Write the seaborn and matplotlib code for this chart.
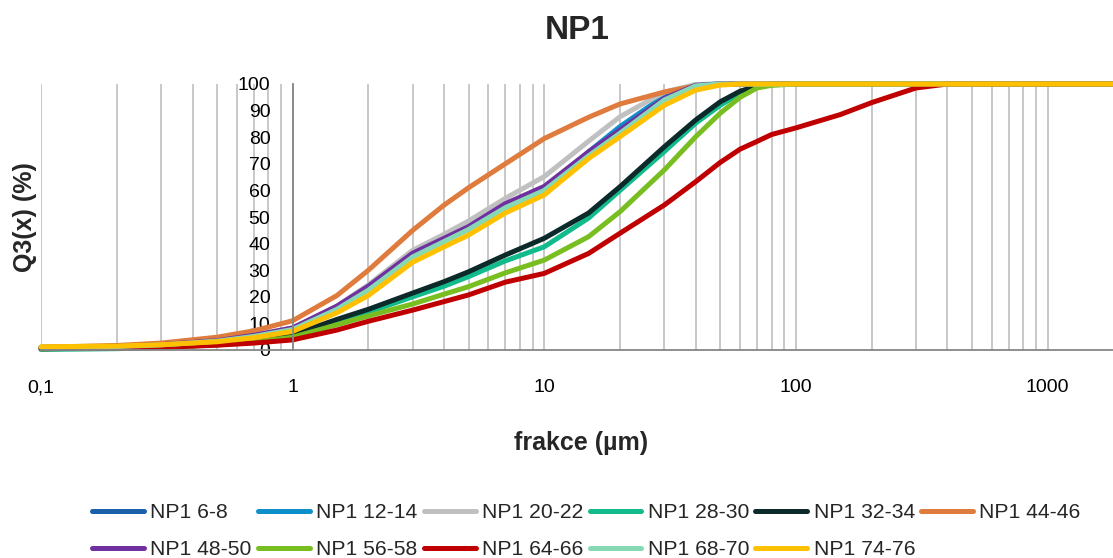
import pandas as pd
import matplotlib
matplotlib.use("Agg")
import matplotlib.pyplot as plt
import seaborn as sns
from matplotlib.lines import Line2D
from matplotlib.ticker import LogLocator, NullFormatter

# particle size (µm) and cumulative distribution Q3 (%)
size_um = [0.1, 0.2, 0.3, 0.5, 0.7, 1, 1.5, 2, 3, 4, 5, 7, 10, 15, 20, 30, 40,
           50, 60, 70, 80, 100, 150, 200, 300, 400, 500, 1000, 2000]

np1_6_8 = [0.9, 1.3, 1.9, 3.4, 5.3, 8.0, 16, 23.5, 36, 41.6, 46, 54.5, 61, 74, 82.5, 94.5, 99.4,
           100] + [100] * 11
np1_12_14 = [0.9, 1.3, 1.9, 3.3, 5.2, 7.9, 15.5, 23, 35.5, 41, 45.5, 53.5, 59.8, 74.5, 84, 95.5, 99.7,
             100] + [100] * 11
np1_20_22 = [1.0, 1.4, 2.0, 3.5, 5.5, 8.3, 16.5, 24.5, 37.5, 43.5, 48.5, 57, 65.2, 78.5, 87.7, 97, 99.8,
             100] + [100] * 11
np1_28_30 = [0.2, 0.5, 1.0, 2.0, 3.3, 5.3, 10.5, 14.2, 20, 24, 27.6, 33.5, 38.8, 49.6, 60, 74.6, 85.3,
             92, 96.5, 98.8, 99.7] + [100] * 8
np1_32_34 = [0.8, 1.0, 1.4, 2.4, 3.7, 5.7, 11.5, 15.3, 21.4, 25.7, 29.4, 35.7, 42, 51.5, 61.4, 76.4, 86.5,
             93.3, 97.3, 99.2, 100] + [100] * 8
np1_44_46 = [1.0, 1.7, 2.6, 4.8, 7.2, 11, 20.5, 30, 45, 54.5, 61, 70, 79.5, 87.5, 92.5, 97, 99.3,
             100] + [100] * 11
np1_48_50 = [1.0, 1.4, 2.0, 3.5, 5.5, 8.3, 16.5, 24, 36.4, 42, 46.4, 55, 61.5, 74.5, 82.7, 94.6, 99.5,
             100] + [100] * 11
np1_56_58 = [0.5, 0.8, 1.1, 1.9, 3.0, 4.8, 9.5, 12.8, 17.3, 21, 23.8, 29, 33.8, 42.6, 52, 67.7, 80.2,
             89, 95, 98.5, 99.5, 100] + [100] * 7
np1_64_66 = [0.5, 0.7, 1.0, 1.8, 2.6, 3.8, 7.5, 10.8, 15, 18.2, 20.7, 25.5, 28.8, 36.3, 43.9, 54.5, 63.3,
             70.5, 75.5, 78.4, 81, 83.5, 88.5, 93, 98.5, 100, 100, 100, 100]
np1_68_70 = [1.0, 1.3, 1.9, 3.3, 5.1, 7.7, 15.3, 22.5, 35, 40.8, 45.3, 53.5, 60, 73, 81.5, 94, 99.3,
             100] + [100] * 11
np1_74_76 = [1.2, 1.5, 2.0, 3.1, 4.6, 7.0, 14, 20.5, 33, 38.8, 43.2, 51.5, 58.3, 72, 80.2, 92, 97.7,
             99.6, 100] + [100] * 10

series_names = ["NP1 6-8", "NP1 12-14", "NP1 20-22", "NP1 28-30", "NP1 32-34", "NP1 44-46",
                "NP1 48-50", "NP1 56-58", "NP1 64-66", "NP1 68-70", "NP1 74-76"]
series_values = [np1_6_8, np1_12_14, np1_20_22, np1_28_30, np1_32_34, np1_44_46,
                 np1_48_50, np1_56_58, np1_64_66, np1_68_70, np1_74_76]
colors = ["#1a5fa9", "#0f8fc9", "#c0c0c0", "#12bb8b", "#0c2a2a", "#df7b3c",
          "#7030a0", "#78be20", "#c00000", "#86d9b5", "#ffc000"]

x_ticks = [0.1, 1, 10, 100, 1000]
x_tick_labels = ["0,1", "1", "10", "100", "1000"]
y_ticks = list(range(0, 101, 10))

df = pd.concat([pd.DataFrame({"frakce": size_um, "Q3": v, "vzorek": n})
                for n, v in zip(series_names, series_values)], ignore_index=True)
palette = dict(zip(series_names, colors))

sns.set_theme(style="white")
plt.rcParams["font.family"] = ["Liberation Sans", "DejaVu Sans"]

fig = plt.figure(figsize=(11.13, 5.58), dpi=100)
ax = fig.add_axes([41 / 1113, 1 - 350 / 558, (1113 - 41) / 1113, 266 / 558])

sns.lineplot(data=df, x="frakce", y="Q3", hue="vzorek", hue_order=series_names,
             palette=palette, linewidth=3.6, legend=False, ax=ax)
for line in ax.lines:
    line.set_clip_on(False)
    line.set_solid_capstyle("round")
    line.set_solid_joinstyle("round")

ax.set_xscale("log")
ax.set_xlim(0.1, 1820)
ax.set_ylim(0, 100)
ax.set_xticks(x_ticks, labels=x_tick_labels)
ax.xaxis.set_minor_locator(LogLocator(base=10, subs=range(2, 10)))
ax.xaxis.set_minor_formatter(NullFormatter())
ax.set_yticks(y_ticks)
ax.xaxis.grid(True, which="both", color="#bfbfbf", linewidth=1.2)
ax.yaxis.grid(False)
ax.set_axisbelow(True)

for s in ["top", "right"]:
    ax.spines[s].set_visible(False)
ax.spines["left"].set_position(("data", 1))
for s in ["left", "bottom"]:
    ax.spines[s].set_color("#868686")
    ax.spines[s].set_linewidth(1.3)

ax.tick_params(axis="x", which="major", length=7, width=1.2, color="#868686",
               pad=14, labelsize=14, labelcolor="black")
ax.tick_params(axis="x", which="minor", length=0)
ax.tick_params(axis="y", length=6, width=1.2, color="#868686", pad=10,
               labelsize=14, labelcolor="black")

ax.set_xlabel("frakce (µm)", fontsize=18, fontweight="bold")
ax.set_ylabel("Q3(x) (%)", fontsize=18, fontweight="bold")
ax.xaxis.label.set_verticalalignment("center")
ax.yaxis.label.set_verticalalignment("center")
ax.xaxis.set_label_coords(0.504, -0.35)
ax.yaxis.set_label_coords(-0.015, 0.5)

fig.text(0.519, 0.946, "NP1", ha="center", va="center", fontsize=24, fontweight="bold")

# legend laid out row by row (matplotlib fills columns first)
order = [0, 6, 1, 7, 2, 8, 3, 9, 4, 10, 5]
handles = [Line2D([0], [0], color=colors[i], lw=3.6, solid_capstyle="round") for i in order]
labels = [series_names[i] for i in order]
fig.legend(handles, labels, ncol=6, loc="center", bbox_to_anchor=(0.527, 0.048),
           frameon=False, fontsize=15.2, handlelength=2.45, handletextpad=0.3,
           columnspacing=0.3, labelspacing=0.86)

fig.savefig("out.png", dpi=100)
